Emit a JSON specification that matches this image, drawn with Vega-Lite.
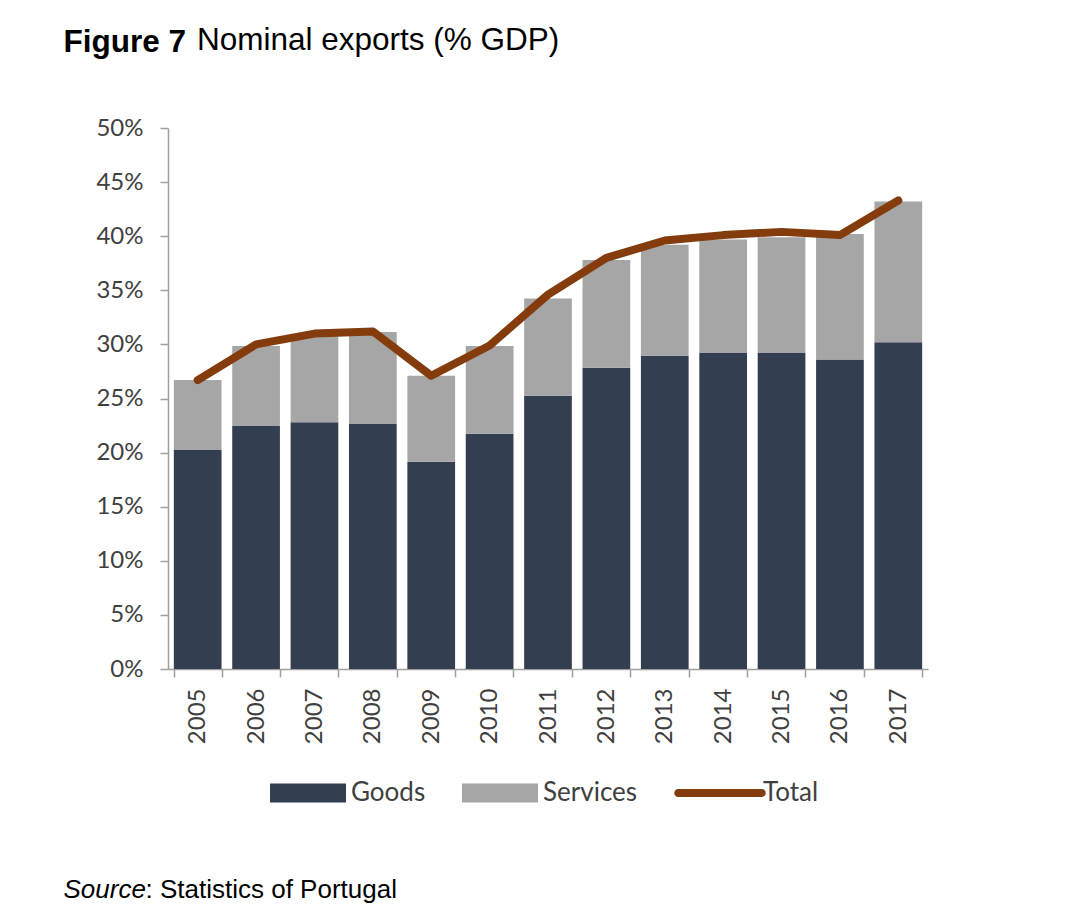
{
  "$schema": "https://vega.github.io/schema/vega-lite/v6.json",
  "width": 760,
  "height": 541,
  "autosize": "none",
  "padding": {"left": 168, "top": 128, "right": 144, "bottom": 249},
  "background": "white",
  "title": {
    "text": "Nominal exports (% GDP)",
    "anchor": "start",
    "frame": "group",
    "font": "Liberation Sans",
    "fontSize": 31.5,
    "fontWeight": "normal",
    "color": "black",
    "baseline": "alphabetic",
    "dx": 29,
    "dy": 55,
    "offset": 0
  },
  "data": {
    "values": [
      {"year": "2005", "series": "Goods", "value": 0.2025},
      {"year": "2006", "series": "Goods", "value": 0.2245},
      {"year": "2007", "series": "Goods", "value": 0.228},
      {"year": "2008", "series": "Goods", "value": 0.2265},
      {"year": "2009", "series": "Goods", "value": 0.1915},
      {"year": "2010", "series": "Goods", "value": 0.2175},
      {"year": "2011", "series": "Goods", "value": 0.2525},
      {"year": "2012", "series": "Goods", "value": 0.2785},
      {"year": "2013", "series": "Goods", "value": 0.2895},
      {"year": "2014", "series": "Goods", "value": 0.292},
      {"year": "2015", "series": "Goods", "value": 0.292},
      {"year": "2016", "series": "Goods", "value": 0.286},
      {"year": "2017", "series": "Goods", "value": 0.302},
      {"year": "2005", "series": "Services", "value": 0.0645},
      {"year": "2006", "series": "Services", "value": 0.074},
      {"year": "2007", "series": "Services", "value": 0.08},
      {"year": "2008", "series": "Services", "value": 0.085},
      {"year": "2009", "series": "Services", "value": 0.0795},
      {"year": "2010", "series": "Services", "value": 0.081},
      {"year": "2011", "series": "Services", "value": 0.09},
      {"year": "2012", "series": "Services", "value": 0.0995},
      {"year": "2013", "series": "Services", "value": 0.1025},
      {"year": "2014", "series": "Services", "value": 0.105},
      {"year": "2015", "series": "Services", "value": 0.107},
      {"year": "2016", "series": "Services", "value": 0.116},
      {"year": "2017", "series": "Services", "value": 0.13},
      {"year": "2005", "series": "Total", "value": 0.267},
      {"year": "2006", "series": "Total", "value": 0.300},
      {"year": "2007", "series": "Total", "value": 0.310},
      {"year": "2008", "series": "Total", "value": 0.312},
      {"year": "2009", "series": "Total", "value": 0.271},
      {"year": "2010", "series": "Total", "value": 0.299},
      {"year": "2011", "series": "Total", "value": 0.346},
      {"year": "2012", "series": "Total", "value": 0.380},
      {"year": "2013", "series": "Total", "value": 0.396},
      {"year": "2014", "series": "Total", "value": 0.401},
      {"year": "2015", "series": "Total", "value": 0.404},
      {"year": "2016", "series": "Total", "value": 0.401},
      {"year": "2017", "series": "Total", "value": 0.433}
    ]
  },
  "encoding": {
    "x": {
      "field": "year",
      "type": "nominal",
      "scale": {"paddingInner": 0.183, "paddingOuter": 0.1},
      "axis": {
        "labelAngle": -90,
        "labelAlign": "right",
        "labelBaseline": "middle",
        "labelPadding": 11,
        "labelFont": "Lato",
        "labelFontSize": 24,
        "labelColor": "#404040",
        "tickBand": "extent",
        "tickSize": 8,
        "tickColor": "#a0a0a0",
        "tickWidth": 1.5,
        "domainColor": "#a0a0a0",
        "domainWidth": 1.5,
        "title": "Source",
        "titleX": -105,
        "titleY": 228,
        "titleAngle": 0,
        "titleAlign": "left",
        "titleBaseline": "alphabetic",
        "titleFont": "Liberation Sans",
        "titleFontSize": 26,
        "titleFontStyle": "italic",
        "titleFontWeight": "normal",
        "titleColor": "black"
      }
    }
  },
  "layer": [
    {
      "transform": [{"filter": "datum.series !== 'Total'"}],
      "mark": {"type": "bar"},
      "encoding": {
        "y": {
          "field": "value",
          "type": "quantitative",
          "stack": "zero",
          "scale": {"domain": [0, 0.5], "nice": false},
          "axis": {
            "values": [0, 0.05, 0.1, 0.15, 0.2, 0.25, 0.3, 0.35, 0.4, 0.45, 0.5],
            "format": ".0%",
            "grid": false,
            "labelFont": "Lato",
            "labelFontSize": 24,
            "labelColor": "#404040",
            "labelPadding": 17,
            "tickSize": 8,
            "tickColor": "#a0a0a0",
            "tickWidth": 1.5,
            "domainColor": "#a0a0a0",
            "domainWidth": 1.5,
            "title": "Figure 7",
            "titleX": -105,
            "titleY": -77,
            "titleAngle": 0,
            "titleAlign": "left",
            "titleBaseline": "alphabetic",
            "titleFont": "Liberation Sans",
            "titleFontSize": 31.5,
            "titleFontWeight": "bold",
            "titleColor": "black"
          }
        },
        "color": {
          "field": "series",
          "type": "nominal",
          "scale": {
            "domain": ["Goods", "Services", "Total"],
            "range": ["#333F50", "#A6A6A6", "#843C0C"]
          },
          "legend": {
            "orient": "none",
            "legendX": 102,
            "legendY": 627,
            "direction": "horizontal",
            "title": null,
            "symbolSize": 5776,
            "labelFont": "Lato",
            "labelFontSize": 26,
            "labelColor": "#404040",
            "labelOffset": 5,
            "columnPadding": 36,
            "encode": {
              "symbols": {
                "update": {
                  "shape": {"signal": "datum.value === 'Total' ? 'M-1.1,-0.105H1.1A0.105,0.105 0 0 1 1.1,0.105H-1.1A0.105,0.105 0 0 1 -1.1,-0.105Z' : 'M-1,-0.25H1V0.25H-1Z'"},
                  "fill": {"scale": "color", "field": "value"},
                  "strokeWidth": {"value": 0},
                  "opacity": {"value": 1}
                }
              }
            }
          }
        },
        "order": {"field": "series", "sort": "ascending"}
      }
    },
    {
      "transform": [{"filter": "datum.series === 'Total'"}],
      "mark": {"type": "line", "strokeWidth": 8, "strokeCap": "round", "strokeJoin": "round"},
      "encoding": {
        "y": {
          "field": "value",
          "type": "quantitative",
          "axis": {
            "orient": "right",
            "labels": false,
            "ticks": false,
            "domain": false,
            "grid": false,
            "title": ": Statistics of Portugal",
            "titleX": -783,
            "titleY": 769,
            "titleAngle": 0,
            "titleAlign": "left",
            "titleBaseline": "alphabetic",
            "titleFont": "Liberation Sans",
            "titleFontSize": 26,
            "titleFontWeight": "normal",
            "titleColor": "black"
          }
        },
        "color": {"value": "#843C0C"}
      }
    }
  ],
  "resolve": {"axis": {"y": "independent"}},
  "config": {"view": {"stroke": null}}
}
